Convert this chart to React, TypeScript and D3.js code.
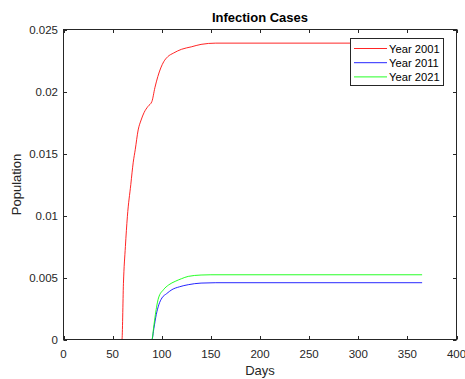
import React from "react";
import * as d3 from "d3";

const xTicks = [0, 50, 100, 150, 200, 250, 300, 350, 400];
const yTicks = [0, 0.005, 0.01, 0.015, 0.02, 0.025];
const yTickLabels = ["0", "0.005", "0.01", "0.015", "0.02", "0.025"];

const seriesNames = ["Year 2001", "Year 2011", "Year 2021"];
const seriesColors = ["#ff0000", "#0000ff", "#00ff00"];

const days2001 = [0, 59.5, 61, 63, 65, 68.5, 71, 73, 76, 79, 82, 86, 90, 93, 96, 99, 102, 106, 112, 120, 130, 140, 155, 365];
const vals2001 = [0, 0, 0.0045, 0.0075, 0.0099, 0.0125, 0.0143, 0.0153, 0.0169, 0.0177, 0.0183, 0.0188, 0.0192, 0.0203, 0.0212, 0.0219, 0.0224, 0.0228, 0.0231, 0.0234, 0.0236, 0.0238, 0.0239, 0.0239];

const days2011 = [0, 90, 92, 94.4, 97, 100.2, 105, 110.4, 118, 127, 140, 155, 365];
const vals2011 = [0, 0, 0.0009, 0.002, 0.0028, 0.00335, 0.0037, 0.00402, 0.00425, 0.00442, 0.00455, 0.00458, 0.00458];

const days2021 = [0, 90, 91.8, 93.5, 96.7, 101.8, 107, 113.7, 120, 127, 140, 150, 365];
const vals2021 = [0, 0, 0.001, 0.002, 0.00335, 0.00402, 0.0044, 0.00469, 0.0049, 0.00509, 0.0052, 0.00522, 0.00522];

const W = 465;
const H = 379;
const L = 63.5, R = 456.5, T = 29.5, B = 339.5;
const FONT = "'Liberation Sans', Arial, Helvetica, sans-serif";
const AX = "#262626";

export default function App() {
  const x = d3.scaleLinear().domain([0, 400]).range([L, R]);
  const y = d3.scaleLinear().domain([0, 0.025]).range([B, T]);
  const line = d3
    .line<[number, number]>()
    .x((d) => x(d[0]))
    .y((d) => y(d[1]))
    .curve(d3.curveMonotoneX);

  const series = [
    days2001.map((d, i) => [d, vals2001[i]] as [number, number]),
    days2011.map((d, i) => [d, vals2011[i]] as [number, number]),
    days2021.map((d, i) => [d, vals2021[i]] as [number, number]),
  ];

  const tl = 3.5;
  const legX = 350.5, legY = 38.5, legW = 93, legH = 47;

  return (
    <svg
      width={W}
      height={H}
      style={{ position: "fixed", left: 0, top: 0, background: "#fff" }}
      fontFamily={FONT}
    >
      <rect x={0} y={0} width={W} height={H} fill="#fff" />
      {series.map((s, i) => (
        <path key={i} d={line(s) || ""} fill="none" stroke={seriesColors[i]} strokeWidth={1} opacity={0.85} />
      ))}
      <rect x={L} y={T} width={R - L} height={B - T} fill="none" stroke={AX} strokeWidth={1} />
      {xTicks.map((t) => (
        <g key={"x" + t}>
          <line x1={Math.round(x(t)) + 0.5} x2={Math.round(x(t)) + 0.5} y1={B} y2={B - tl} stroke={AX} />
          <line x1={Math.round(x(t)) + 0.5} x2={Math.round(x(t)) + 0.5} y1={T} y2={T + tl} stroke={AX} />
          <text x={x(t)} y={358} textAnchor="middle" fontSize={11.5} fill={AX}>
            {t}
          </text>
        </g>
      ))}
      {yTicks.map((t, i) => (
        <g key={"y" + t}>
          <line x1={L} x2={L + tl} y1={Math.round(y(t)) + 0.5} y2={Math.round(y(t)) + 0.5} stroke={AX} />
          <line x1={R} x2={R - tl} y1={Math.round(y(t)) + 0.5} y2={Math.round(y(t)) + 0.5} stroke={AX} />
          <text x={58} y={y(t) + 4} textAnchor="end" fontSize={11.5} fill={AX}>
            {yTickLabels[i]}
          </text>
        </g>
      ))}
      <text x={(L + R) / 2} y={21.5} textAnchor="middle" fontSize={13} fontWeight="bold" fill="#000">
        Infection Cases
      </text>
      <text x={(L + R) / 2} y={375} textAnchor="middle" fontSize={13} fill={AX}>
        Days
      </text>
      <text
        transform={`translate(21,${(T + B) / 2}) rotate(-90)`}
        textAnchor="middle"
        fontSize={13}
        fill={AX}
      >
        Population
      </text>
      <rect x={legX} y={legY} width={legW} height={legH} fill="#fff" stroke={AX} strokeWidth={1} />
      {seriesNames.map((n, i) => {
        const ly = 48.5 + i * 14.2;
        return (
          <g key={n}>
            <line x1={354} x2={387} y1={ly} y2={ly} stroke={seriesColors[i]} strokeWidth={1} opacity={0.85} />
            <text x={389} y={ly + 4} fontSize={11.2} fill="#000">
              {n}
            </text>
          </g>
        );
      })}
    </svg>
  );
}
